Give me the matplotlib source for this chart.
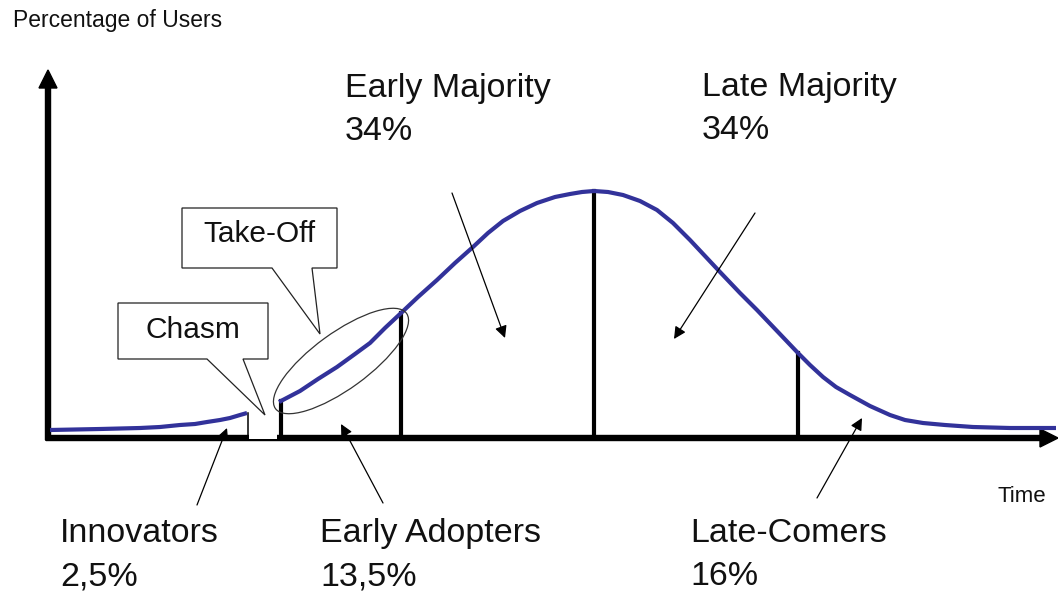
import numpy as np
import matplotlib
matplotlib.use("Agg")
import matplotlib.pyplot as plt
from matplotlib.patches import Ellipse, Polygon, Rectangle

plt.rcParams['font.family'] = ['Liberation Sans', 'DejaVu Sans']

# adoption curve (time, share) - gap is the chasm
time = [2, 52, 92, 112, 132, 147, 159, 172, 182, 192, 199,
        231, 252, 270, 289, 307, 322, 337, 352, 370, 389, 407, 425, 440, 455,
        472, 489, 507, 522, 534, 546, 560, 575, 592, 609, 625, 642, 657, 672,
        692, 709, 730, 750, 762, 775, 788, 802, 822, 842, 857, 875, 897, 925,
        962, 1008]
share = [8, 9, 10, 11, 13, 14, 16, 18, 20, 23, 25,
         36, 47, 59, 71, 84, 95, 110, 124, 141, 158, 175, 191, 205, 217,
         227, 235, 241, 244, 246, 247, 246, 243, 237, 228, 215, 198, 182, 166,
         145, 128, 106, 85, 73, 61, 51, 43, 32, 23, 18, 15, 13, 11,
         10, 10]
chasm = (200, 230)
dividers = [233, 353, 546, 750]

# group labels: (name, percent, x, baseline of name, baseline of percent)
groups = [
    ("Early Majority", "34%", 297, 341, 298),
    ("Late Majority", "34%", 654, 342, 299),
    ("Innovators", "2,5%", 12, -104, -147),
    ("Early Adopters", "13,5%", 272, -104, -147),
    ("Late-Comers", "16%", 642, -104, -147),
]

# pointer arrows (start, tip)
pointers = [
    ((149, -67), (179, 10)),
    ((335, -65), (293, 14)),
    ((404, 245), (457, 100)),
    ((707, 225), (626, 99)),
    ((769, -60), (814, 20)),
]

fig = plt.figure(figsize=(10.58, 5.92), dpi=100)
ax = fig.add_axes([0, 0, 1, 1])
ax.set_xlim(-48, 1010)
ax.set_ylim(-154, 438)
ax.axis('off')

t = np.array(time, dtype=float)
s = np.array(share, dtype=float)

# axes with arrow heads
ax.arrow(-2, 0, 1012, 0, width=5, head_width=18, head_length=18,
         length_includes_head=True, fc='black', ec='black', zorder=3)
ax.arrow(0, -2, 0, 370, width=5, head_width=18, head_length=18,
         length_includes_head=True, fc='black', ec='black', zorder=3)

# chasm notch cut into the axis
left_part = t <= chasm[0]
right_part = t >= chasm[1]
ax.add_patch(Rectangle((chasm[0] + 1, -1), chasm[1] - chasm[0] - 2, s[left_part][-1],
                       fc='white', ec='none', zorder=4))
ax.plot([chasm[0], chasm[0]], [-1, s[left_part][-1]], color='black', lw=1.1, zorder=5)

# curve
ax.plot(t[left_part], s[left_part], color='#32329a', lw=3, solid_capstyle='butt',
        solid_joinstyle='round', zorder=6)
ax.plot(t[right_part], s[right_part], color='#32329a', lw=3, solid_capstyle='butt',
        solid_joinstyle='round', zorder=6)

# dividers between groups
for d in dividers:
    ax.plot([d, d], [0, np.interp(d, t, s)], color='black', lw=3, zorder=5)

# take-off ellipse
ax.add_patch(Ellipse((293, 77), 162, 56, angle=36, fill=False, ec='#333333', lw=0.9, zorder=7))

# callouts
chasm_box = [(70, 135), (220, 135), (220, 79), (195, 79), (217, 23), (159, 79), (70, 79)]
takeoff_box = [(134, 230), (289, 230), (289, 170), (264, 170), (272, 104), (224, 170), (134, 170)]
for box in (chasm_box, takeoff_box):
    ax.add_patch(Polygon(box, closed=True, fc='white', ec='#222222', lw=0.9, zorder=7))
ax.text(145, 100, "Chasm", fontsize=21.5, ha='center', va='baseline', color='#111111', zorder=8)
ax.text(211.5, 196, "Take-Off", fontsize=21.5, ha='center', va='baseline', color='#111111', zorder=8)

for (x0, y0), (x1, y1) in pointers:
    ax.annotate('', xy=(x1, y1), xytext=(x0, y0),
                arrowprops=dict(arrowstyle='-|>', color='black', lw=0.9,
                                mutation_scale=18, shrinkA=0, shrinkB=0), zorder=8)

for name, pct, x, yb, pb in groups:
    ax.text(x, yb, name, fontsize=24.5, va='baseline', color='#111111')
    ax.text(x, pb, pct, fontsize=24.5, va='baseline', color='#111111')

ax.text(-35, 411, "Percentage of Users", fontsize=16.5, va='baseline', color='#111111')
ax.text(950, -64, "Time", fontsize=16, va='baseline', color='#111111')

fig.savefig("out.png", dpi=100)
